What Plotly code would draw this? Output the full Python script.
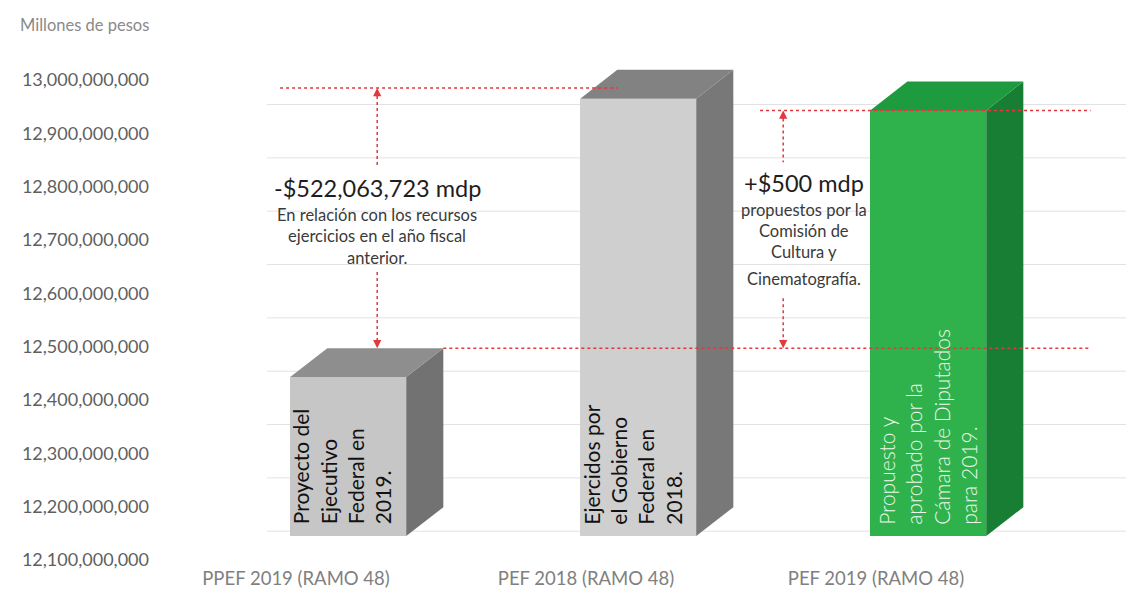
import plotly.graph_objects as go

# ---------------- data ----------------
CATEGORIES = ["PPEF 2019 (RAMO 48)", "PEF 2018 (RAMO 48)", "PEF 2019 (RAMO 48)"]
VALUES = [12_443_000_000, 12_965_063_723, 12_943_000_000]
BAR_TEXTS = [
    "Proyecto del<br>Ejecutivo<br>Federal en<br>2019.",
    "Ejercidos por<br>el Gobierno<br>Federal en<br>2018.",
    "Propuesto y<br>aprobado por la<br>Cámara de Diputados<br>para 2019.",
]
Y_TICKS = [12_100_000_000, 12_200_000_000, 12_300_000_000, 12_400_000_000,
           12_500_000_000, 12_600_000_000, 12_700_000_000, 12_800_000_000,
           12_900_000_000, 13_000_000_000]
Y_TITLE = "Millones de pesos"
DIFF_LEFT = "-$522,063,723 mdp"
DIFF_LEFT_NOTE = ["En relación con los recursos", "ejercicios en el año fiscal", "anterior."]
DIFF_RIGHT = "+$500 mdp"
DIFF_RIGHT_NOTE = ["propuestos por la", "Comisión de", "Cultura y", "Cinematografía."]

# ---------------- style / geometry ----------------
FRONT = ["#c6c6c6", "#cfcfcf", "#2fb24c"]
TOP = ["#8e8e8e", "#828282", "#1f9b3f"]
SIDE = ["#727272", "#787878", "#177e34"]
TEXT_COL = ["#111111", "#111111", "#eef8ee"]
TEXT_DX = [-0.012, -0.012, 0.006]
BASE = 12_145_000_000
OFF, HALF, DX, DY = 0.18, 0.2, 0.128, 54_000_000
RED = "#e0393e"
FONT = "Lato, 'Open Sans', sans-serif"

fig = go.Figure()

# back-wall gridlines (3D offset)
shapes = []
for t in Y_TICKS[:-1]:
    shapes.append(dict(type="line", xref="x", yref="y", x0=-0.1, x1=3.0,
                       y0=t + DY, y1=t + DY, line=dict(color="#e2e2e2", width=1),
                       layer="below"))

# front faces
fig.add_trace(go.Bar(
    x=[i + OFF for i in range(len(VALUES))],
    y=[v - BASE for v in VALUES],
    base=BASE, width=2 * HALF,
    marker=dict(color=FRONT, line=dict(width=0)),
    hoverinfo="skip", showlegend=False,
))

# side and top faces
for i, v in enumerate(VALUES):
    xl, xr = i + OFF - HALF, i + OFF + HALF
    fig.add_trace(go.Scatter(
        x=[xr, xr + DX, xr + DX, xr, xr], y=[BASE, BASE + DY, v + DY, v, BASE],
        fill="toself", fillcolor=SIDE[i], mode="lines", line=dict(width=0),
        hoverinfo="skip", showlegend=False))
    fig.add_trace(go.Scatter(
        x=[xl, xl + DX, xr + DX, xr, xl], y=[v, v + DY, v + DY, v, v],
        fill="toself", fillcolor=TOP[i], mode="lines", line=dict(width=0),
        hoverinfo="skip", showlegend=False))

annotations = []
# rotated texts on bars
for i, v in enumerate(VALUES):
    xl = i + OFF - HALF
    annotations.append(dict(
        x=xl + TEXT_DX[i], y=BASE + 18_000_000, xref="x", yref="y",
        text=BAR_TEXTS[i], showarrow=False, textangle=-90,
        xanchor="left", yanchor="bottom", align="left",
        font=dict(family=FONT, size=21,
                  color=TEXT_COL[i], weight=400 if i < 2 else 300)))

# reference lines
L1 = VALUES[1] + 0.37 * DY
L2 = VALUES[2]
L3 = VALUES[0] + DY
dot = dict(color=RED, width=1.5, dash="dot")
shapes += [
    dict(type="line", x0=-0.055, x1=1 + OFF - HALF + DX, y0=L1, y1=L1, line=dot, layer="above"),
    dict(type="line", x0=1.6, x1=2.74, y0=L2, y1=L2, line=dot, layer="above"),
    dict(type="line", x0=OFF + HALF + DX, x1=2.74, y0=L3, y1=L3, line=dot, layer="above"),
]
XL_ARROW = 0.28
XR_ARROW = 1.68
shapes += [
    dict(type="line", x0=XL_ARROW, x1=XL_ARROW, y0=L1 - 15_000_000, y1=12_835_000_000, line=dot, layer="above"),
    dict(type="line", x0=XL_ARROW, x1=XL_ARROW, y0=12_640_000_000, y1=L3 + 15_000_000, line=dot, layer="above"),
    dict(type="line", x0=XR_ARROW, x1=XR_ARROW, y0=L2 - 15_000_000, y1=12_846_000_000, line=dot, layer="above"),
    dict(type="line", x0=XR_ARROW, x1=XR_ARROW, y0=12_591_000_000, y1=L3 + 15_000_000, line=dot, layer="above"),
]
for (xa, ya, up) in [(XL_ARROW, L1, True), (XL_ARROW, L3, False),
                     (XR_ARROW, L2, True), (XR_ARROW, L3, False)]:
    annotations.append(dict(x=xa, y=ya, xref="x", yref="y", text="", showarrow=True,
                            ax=0, ay=10 if up else -10, arrowhead=2, arrowsize=1.1,
                            arrowwidth=1.5, arrowcolor=RED))

# difference texts
annotations.append(dict(x=XL_ARROW, y=12_797_000_000, xref="x", yref="y", text=DIFF_LEFT,
                        showarrow=False, font=dict(family=FONT, size=23.5, color="#1e1e1e")))
for k, line in enumerate(DIFF_LEFT_NOTE):
    annotations.append(dict(x=XL_ARROW, y=12_747_000_000 - k * 40_000_000, xref="x", yref="y",
                            text=line, showarrow=False,
                            font=dict(family=FONT, size=16.5, color="#3a3a3a")))
annotations.append(dict(x=1.75, y=12_807_000_000, xref="x", yref="y", text=DIFF_RIGHT,
                        showarrow=False, font=dict(family=FONT, size=23.5, color="#1e1e1e")))
for k, (line, dy) in enumerate(zip(DIFF_RIGHT_NOTE, [0, 41, 80, 131])):
    annotations.append(dict(x=1.75, y=12_757_000_000 - dy * 1_000_000, xref="x", yref="y",
                            text=line, showarrow=False,
                            font=dict(family=FONT, size=16.5, color="#3a3a3a")))

# page has an 8px body margin: plot area starts at screen x=160, y=48
annotations.append(dict(x=-(160 - 18) / 982, y=1 + (48 - 25) / 512, xref="paper", yref="paper",
                        text=Y_TITLE, showarrow=False, xanchor="left", yanchor="middle",
                        font=dict(family=FONT, size=16.5, color="#8a8a8a")))

fig.update_layout(
    width=1134, height=596,
    margin=dict(l=152, r=0, t=40, b=44, autoexpand=False),
    paper_bgcolor="white", plot_bgcolor="white",
    showlegend=False, bargap=0,
    shapes=shapes, annotations=annotations,
    xaxis=dict(range=[-0.469, -0.469 + 982 / 290], tickvals=list(range(len(CATEGORIES))),
               ticktext=CATEGORIES, showgrid=False, zeroline=False, showline=False,
               ticks="", automargin=False, ticklabelstandoff=5,
               tickfont=dict(family=FONT, size=18.5, color="#808080")),
    yaxis=dict(range=[12_100_000_000, 13_060_000_000], tickvals=Y_TICKS,
               ticktext=[f"{t:,}" for t in Y_TICKS], showgrid=False, zeroline=False,
               showline=False, ticks="", ticklabelstandoff=10, automargin=False,
               tickfont=dict(family=FONT, size=18, color="#5f5f5f")),
)

fig.write_html("out.html")
